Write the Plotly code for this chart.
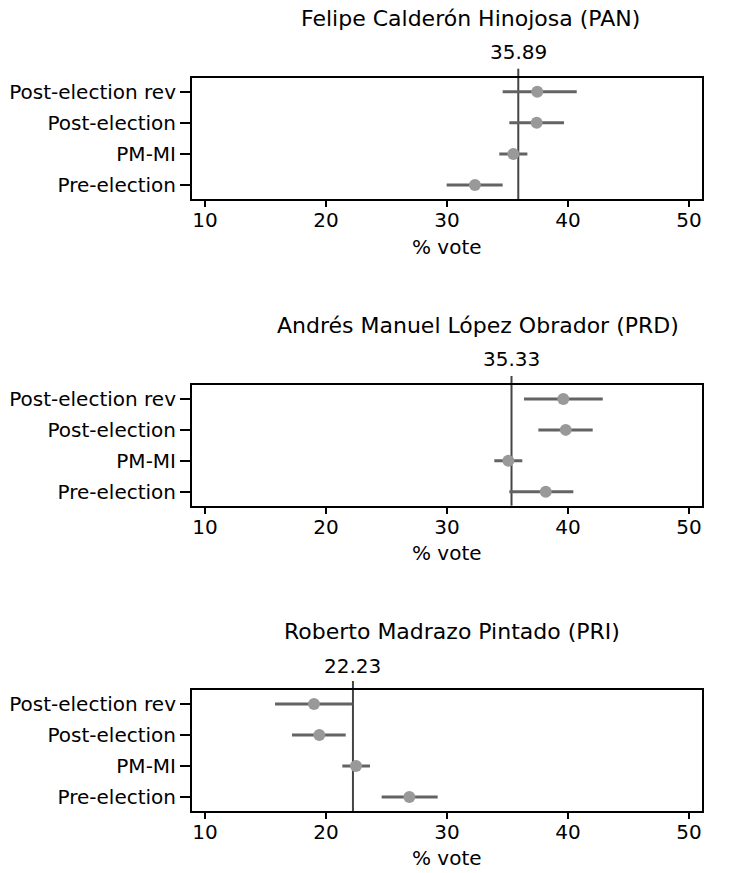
import plotly.graph_objects as go

methods = ["Pre-election", "PM-MI", "Post-election", "Post-election rev"]
candidates = ["Felipe Calderón Hinojosa (PAN)",
              "Andrés Manuel López Obrador (PRD)",
              "Roberto Madrazo Pintado (PRI)"]
actual = [35.89, 35.33, 22.23]

pan_est = [32.31, 35.48, 37.41, 37.46]
pan_lo = [29.97, 34.32, 35.15, 34.60]
pan_hi = [34.60, 36.64, 39.67, 40.72]

prd_est = [38.16, 35.07, 39.81, 39.61]
prd_lo = [35.15, 33.91, 37.55, 36.36]
prd_hi = [40.44, 36.22, 42.04, 42.87]

pri_est = [26.89, 22.48, 19.45, 19.01]
pri_lo = [24.60, 21.35, 17.19, 15.79]
pri_hi = [29.23, 23.64, 21.63, 22.20]

x_ticks = [10, 20, 30, 40, 50]
x_title = "% vote"

est = [pan_est, prd_est, pri_est]
lo = [pan_lo, prd_lo, pri_lo]
hi = [pan_hi, prd_hi, pri_hi]
ypos = list(range(1, len(methods) + 1))

FONT = "DejaVu Sans, Liberation Sans, Arial, sans-serif"
FS = 20

FW, FH = 749, 873


def px(xp):
    return xp / FW


def py(yp):
    return 1 - yp / FH


x_left, x_right = 192, 702
boxes = [(77.7, 199), (385, 505.7), (690, 811)]
title_y = [18, 325, 631]
title_x = [470, 478, 452]
label_y = [52, 359, 666]
xtitle_y = [247, 553, 858]

fig = go.Figure()

for i in range(3):
    xa = "x" if i == 0 else f"x{i+1}"
    ya = "y" if i == 0 else f"y{i+1}"
    top, bot = boxes[i]
    # CI bars
    fig.add_trace(go.Scatter(
        x=est[i], y=ypos, xaxis=xa, yaxis=ya, mode="markers",
        marker=dict(size=0.1, color="rgba(0,0,0,0)"),
        error_x=dict(type="data", symmetric=False,
                     array=[h - e for h, e in zip(hi[i], est[i])],
                     arrayminus=[e - l for e, l in zip(est[i], lo[i])],
                     color="#636363", thickness=3, width=0),
        showlegend=False, hoverinfo="skip"))
    # reference line
    fig.add_shape(type="line", xref=xa, yref=f"{ya} domain",
                  x0=actual[i], x1=actual[i], y0=0, y1=1 + 9 / (bot - top),
                  line=dict(color="#454545", width=2), layer="below")
    # point estimates
    fig.add_trace(go.Scatter(
        x=est[i], y=ypos, xaxis=xa, yaxis=ya, mode="markers",
        marker=dict(size=12, color="#999999"),
        showlegend=False))

    axis_common = dict(showline=True, linecolor="black", linewidth=2, mirror=True,
                       showgrid=False, zeroline=False, ticks="outside",
                       tickcolor="black", tickfont=dict(family=FONT, size=FS, color="black"))
    fig.layout[("xaxis" if i == 0 else f"xaxis{i+1}")] = dict(
        domain=[px(x_left), px(x_right)], anchor=ya, range=[8.93, 51.07],
        tickvals=x_ticks, ticklen=6, tickwidth=2, ticklabelstandoff=-4, **axis_common)
    fig.layout[("yaxis" if i == 0 else f"yaxis{i+1}")] = dict(
        domain=[py(bot), py(top)], anchor=xa, range=[0.55, 4.45],
        tickvals=ypos, ticktext=methods, ticklen=10, tickwidth=1.5,
        **axis_common)

    # reference label
    fig.add_annotation(x=actual[i], xref=xa, y=py(label_y[i]), yref="paper",
                       text=f"{actual[i]:.2f}", showarrow=False,
                       font=dict(family=FONT, size=FS, color="black"),
                       xanchor="center", yanchor="middle")
    # panel title
    fig.add_annotation(x=px(title_x[i]), xref="paper", y=py(title_y[i]), yref="paper",
                       text=candidates[i], showarrow=False,
                       font=dict(family=FONT, size=FS + 2, color="black"),
                       xanchor="center", yanchor="middle")
    # x axis title
    fig.add_annotation(x=px((x_left + x_right) / 2), xref="paper", y=py(xtitle_y[i]),
                       yref="paper", text=x_title, showarrow=False,
                       font=dict(family=FONT, size=FS, color="black"),
                       xanchor="center", yanchor="middle")

fig.update_layout(width=FW, height=FH, margin=dict(l=0, r=0, t=0, b=0),
                  paper_bgcolor="white", plot_bgcolor="white",
                  font=dict(family=FONT, size=FS, color="black"))

fig.write_html("out.html", config={"displayModeBar": False},
               post_script="document.body.style.margin='0';document.body.style.overflow='hidden';")
